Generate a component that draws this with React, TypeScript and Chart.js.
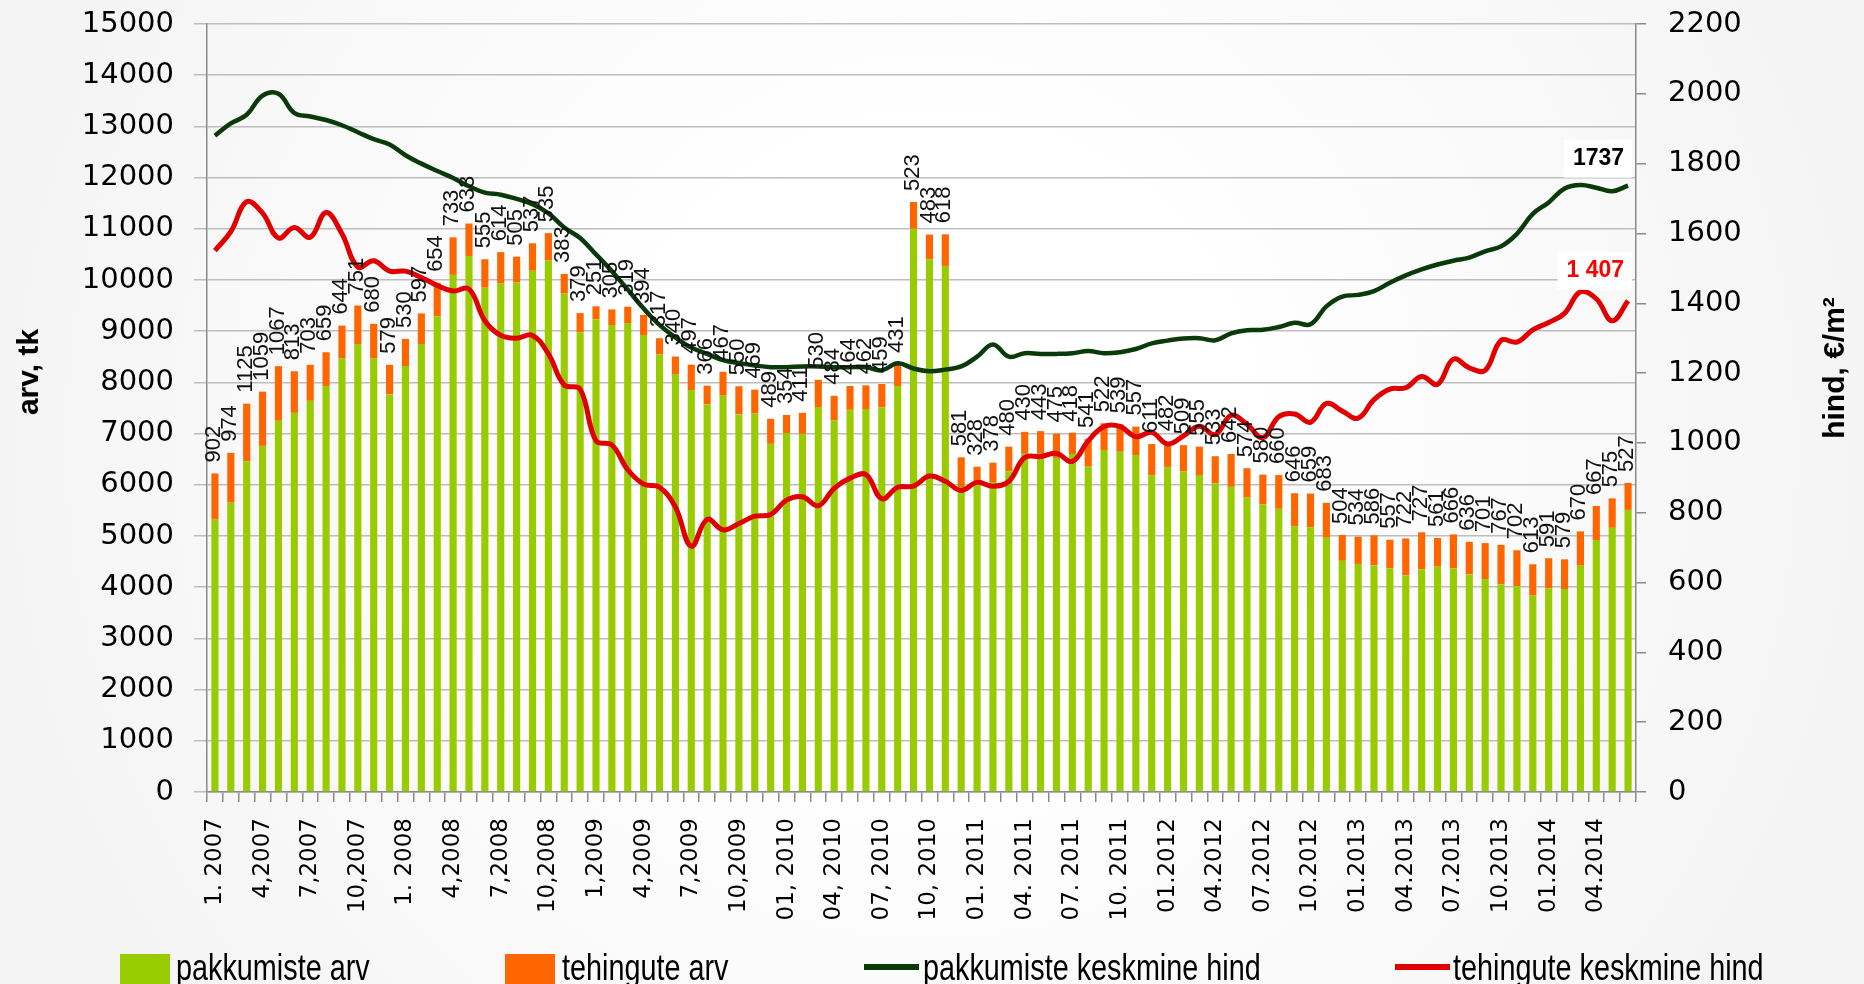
import React, { useEffect, useRef } from 'react';
import { Chart, registerables } from 'chart.js';

Chart.register(...registerables);

// ---- data ----
const years = [2007, 2008, 2009, 2010, 2011, 2012, 2013, 2014];
const categories: string[] = [];
years.forEach((y) => {
  for (let m = 1; m <= 12; m++) {
    if (y === 2014 && m > 6) break;
    categories.push(`${String(m).padStart(2, '0')}.${y}`);
  }
});

const tickLabels = [
  '1. 2007', '4,2007', '7,2007', '10,2007',
  '1. 2008', '4,2008', '7,2008', '10,2008',
  '1,2009', '4,2009', '7,2009', '10,2009',
  '01, 2010', '04, 2010', '07, 2010', '10, 2010',
  '01. 2011', '04. 2011', '07. 2011', '10. 2011',
  '01.2012', '04.2012', '07.2012', '10.2012',
  '01.2013', '04.2013', '07.2013', '10.2013',
  '01.2014', '04.2014',
];

// pakkumiste arv (green bars)
const pakkumisteArv = [
  5320, 5650, 6460, 6760, 7250, 7405, 7640, 7930, 8465, 8750,
  8465, 7765, 8320, 8750, 9290, 10100, 10470, 9850, 9930, 9950,
  10180, 10380, 9735, 8975, 9235, 9120, 9160, 8925, 8545, 8165,
  7850, 7570, 7740, 7375, 7390, 6800, 7010, 6995, 7520, 7255,
  7465, 7480, 7510, 7930, 11000, 10405, 10275, 5955, 6025, 6055,
  6265, 6605, 6605, 6525, 6600, 6355, 6680, 6645, 6580, 6185,
  6350, 6265, 6190, 6025, 5960, 5750, 5620, 5530, 5190, 5170,
  4965, 4515, 4455, 4425, 4370, 4230, 4345, 4400, 4365, 4250,
  4160, 4060, 4020, 3835, 3975, 3965, 4420, 4920, 5160, 5510,
];

// tehingute arv (orange bars)
const tehinguteArv = [
  902, 974, 1125, 1059, 1067, 813, 703, 659, 644, 751,
  680, 579, 530, 597, 654, 733, 633, 555, 614, 505,
  537, 535, 383, 379, 251, 305, 319, 394, 317, 340,
  497, 366, 467, 550, 469, 489, 354, 411, 530, 484,
  464, 462, 459, 431, 523, 483, 618, 581, 328, 378,
  480, 430, 443, 475, 418, 541, 522, 539, 557, 611,
  482, 509, 555, 533, 642, 574, 580, 660, 646, 659,
  683, 504, 534, 586, 557, 722, 727, 561, 666, 636,
  701, 767, 702, 613, 591, 579, 670, 667, 575, 527,
];

// pakkumiste keskmine hind (dark green line)
const pakkumisteHind = [
  1880, 1915, 1940, 1995, 2000, 1945, 1935, 1925, 1910, 1890,
  1870, 1855, 1824, 1800, 1779, 1759, 1735, 1717, 1711, 1699,
  1684, 1658, 1617, 1587, 1540, 1492, 1439, 1385, 1338, 1302,
  1273, 1255, 1237, 1229, 1222, 1217, 1217, 1219, 1219, 1217,
  1217, 1217, 1208, 1228, 1213, 1205, 1210, 1219, 1247, 1282,
  1247, 1257, 1255, 1255, 1257, 1263, 1257, 1260, 1269, 1285,
  1293, 1299, 1300, 1294, 1314, 1323, 1324, 1332, 1344, 1340,
  1391, 1419, 1424, 1435, 1459, 1480, 1497, 1511, 1522, 1531,
  1549, 1563, 1599, 1656, 1689, 1729, 1739, 1731, 1721, 1737,
];

// tehingute keskmine hind (red line)
const tehinguteHind = [
  1551, 1605, 1691, 1658, 1587, 1617, 1589, 1660, 1599, 1504,
  1522, 1492, 1492, 1474, 1451, 1435, 1441, 1350, 1308, 1300,
  1308, 1255, 1166, 1154, 1006, 994, 923, 882, 873, 816,
  704, 781, 751, 769, 790, 795, 836, 846, 820, 870,
  899, 909, 840, 873, 876, 905, 890, 864, 887, 876,
  890, 958, 961, 970, 947, 1006, 1047, 1047, 1018, 1030,
  997, 1020, 1048, 1024, 1079, 1053, 1015, 1075, 1083, 1059,
  1113, 1091, 1071, 1124, 1154, 1158, 1190, 1168, 1240, 1215,
  1208, 1294, 1289, 1324, 1345, 1371, 1433, 1413, 1350, 1407,
];

const seriesNames = ['pakkumiste arv', 'tehingute arv', 'pakkumiste keskmine hind', 'tehingute keskmine hind'];

const GREEN = '#99CC00';
const ORANGE = '#FF6600';
const DARK = '#0A3A0A';
const RED = '#E00000';

const fmtSpace = (v: number) => String(v).replace(/\B(?=(\d{3})+(?!\d))/g, ' ');

const drawPlugin = {
  id: 'customDraw',
  beforeDraw(chart: any) {
    const { ctx, width, height } = chart;
    ctx.save();
    const g = ctx.createRadialGradient(width * 0.5, height * 0.45, 300, width * 0.5, height * 0.45, width * 0.65);
    g.addColorStop(0, '#ffffff');
    g.addColorStop(1, '#f0f0f0');
    ctx.fillStyle = g;
    ctx.fillRect(0, 0, width, height);
    ctx.restore();
  },
  afterDatasetsDraw(chart: any) {
    const { ctx } = chart;
    const meta = chart.getDatasetMeta(1);
    ctx.save();
    ctx.font = '22px "Liberation Sans", Arial, sans-serif';
    ctx.fillStyle = '#111';
    ctx.textAlign = 'left';
    ctx.textBaseline = 'middle';
    meta.data.forEach((el: any, i: number) => {
      ctx.save();
      ctx.translate(el.x - 1, el.y - 11);
      ctx.rotate(-Math.PI / 2);
      ctx.fillText(String(tehinguteArv[i]), 0, 0);
      ctx.restore();
    });
    ctx.restore();
  },
  afterDraw(chart: any) {
    const { ctx } = chart;
    // end labels
    const endLabel = (dsIndex: number, text: string, color: string, dy: number) => {
      const m = chart.getDatasetMeta(dsIndex);
      const pt = m.data[m.data.length - 1];
      ctx.save();
      ctx.font = 'bold 23px "Liberation Sans", Arial, sans-serif';
      const w = ctx.measureText(text).width;
      const right = pt.x - 4;
      const cy = pt.y - dy;
      ctx.fillStyle = '#ffffff';
      ctx.fillRect(right - w - 9, cy - 19, w + 17, 38);
      ctx.fillStyle = color;
      ctx.textAlign = 'right';
      ctx.textBaseline = 'middle';
      ctx.fillText(text, right, cy);
      ctx.restore();
    };
    endLabel(2, String(pakkumisteHind[pakkumisteHind.length - 1]), '#000', 27);
    endLabel(3, fmtSpace(tehinguteHind[tehinguteHind.length - 1]), '#FF0000', 30);

    // axis titles
    ctx.save();
    ctx.font = 'bold 30px "Liberation Sans", Arial, sans-serif';
    ctx.fillStyle = '#000';
    ctx.textAlign = 'center';
    ctx.textBaseline = 'middle';
    ctx.save();
    ctx.translate(30, 372);
    ctx.rotate(-Math.PI / 2);
    ctx.fillText('arv, tk', 0, 0);
    ctx.restore();
    ctx.save();
    ctx.translate(1836, 368);
    ctx.rotate(-Math.PI / 2);
    ctx.fillText('hind, €/m²', 0, 0);
    ctx.restore();
    ctx.restore();

    // legend
    const items = [
      { kind: 'box', color: GREEN, x: 120, tx: 176 },
      { kind: 'box', color: ORANGE, x: 505, tx: 562 },
      { kind: 'line', color: DARK, x: 864, tx: 923 },
      { kind: 'line', color: RED, x: 1395, tx: 1453 },
    ];
    ctx.save();
    items.forEach((it, i) => {
      ctx.fillStyle = it.color;
      if (it.kind === 'box') {
        ctx.fillRect(it.x, 954, 50, 40);
      } else {
        ctx.fillRect(it.x, 964, 55, 6);
      }
      ctx.save();
      ctx.translate(it.tx, 980);
      ctx.scale(0.8, 1);
      ctx.font = '36px "Liberation Sans", Arial, sans-serif';
      ctx.fillStyle = '#000';
      ctx.textAlign = 'left';
      ctx.textBaseline = 'alphabetic';
      ctx.fillText(seriesNames[i], 0, 0);
      ctx.restore();
    });
    ctx.restore();
  },
};

export default function App() {
  const ref = useRef<HTMLCanvasElement | null>(null);
  useEffect(() => {
    if (!ref.current) return;
    const tickFont = { family: '"DejaVu Sans", Verdana, sans-serif', size: 29 };
    const plain = (v: any) => String(v);
    const chart = new Chart(ref.current, {
      type: 'bar',
      data: {
        labels: categories,
        datasets: [
          {
            type: 'bar',
            label: seriesNames[0],
            data: pakkumisteArv,
            backgroundColor: GREEN,
            yAxisID: 'y',
            stack: 's',
            barPercentage: 0.45,
            categoryPercentage: 1,
            order: 2,
          },
          {
            type: 'bar',
            label: seriesNames[1],
            data: tehinguteArv,
            backgroundColor: ORANGE,
            yAxisID: 'y',
            stack: 's',
            barPercentage: 0.45,
            categoryPercentage: 1,
            order: 2,
          },
          {
            type: 'line',
            label: seriesNames[2],
            data: pakkumisteHind,
            borderColor: DARK,
            borderWidth: 4.5,
            pointRadius: 0,
            tension: 0.4,
            yAxisID: 'y1',
            order: 1,
          },
          {
            type: 'line',
            label: seriesNames[3],
            data: tehinguteHind,
            borderColor: RED,
            borderWidth: 5,
            pointRadius: 0,
            tension: 0.4,
            yAxisID: 'y1',
            order: 0,
          },
        ] as any,
      },
      options: {
        responsive: false,
        animation: false,
        layout: { padding: { top: 24, left: 0, right: 0, bottom: 0 } },
        plugins: { legend: { display: false }, tooltip: { enabled: false } },
        scales: {
          x: {
            stacked: true,
            offset: true,
            grid: { offset: true, drawOnChartArea: false, drawTicks: true, tickLength: 10, color: '#8a8a8a', lineWidth: 1.5 },
            border: { color: '#8a8a8a', width: 1.5 },
            ticks: {
              autoSkip: false,
              maxRotation: 90,
              minRotation: 90,
              padding: 16,
              color: '#000',
              font: { family: '"DejaVu Sans", Verdana, sans-serif', size: 23 },
              callback: (_v: any, i: number) => (i % 3 === 0 ? tickLabels[i / 3] : ''),
            },
            afterFit: (s: any) => { s.height = 192; s.paddingLeft = 0; s.paddingRight = 0; },
          },
          y: {
            position: 'left',
            stacked: true,
            min: 0,
            max: 15000,
            ticks: { stepSize: 1000, color: '#000', font: tickFont, padding: 20, callback: plain },
            grid: { color: '#bdbdbd', lineWidth: 1.5, tickLength: 13 },
            border: { color: '#8a8a8a', width: 1.5 },
            afterFit: (s: any) => { s.width = 207; s.paddingTop = 0; s.paddingBottom = 0; },
          },
          y1: {
            position: 'right',
            min: 0,
            max: 2200,
            ticks: { stepSize: 200, color: '#000', font: tickFont, padding: 22, callback: plain },
            grid: { drawOnChartArea: false, color: '#8a8a8a', lineWidth: 1.5, tickLength: 10 },
            border: { color: '#8a8a8a', width: 1.5 },
            afterFit: (s: any) => { s.width = 228; s.paddingTop = 0; s.paddingBottom = 0; },
          },
        },
      } as any,
      plugins: [drawPlugin],
    });
    return () => chart.destroy();
  }, []);
  return (
    <div style={{ position: 'fixed', left: 0, top: 0, width: 1864, height: 984 }}>
      <canvas ref={ref} width={1864} height={984} />
    </div>
  );
}
